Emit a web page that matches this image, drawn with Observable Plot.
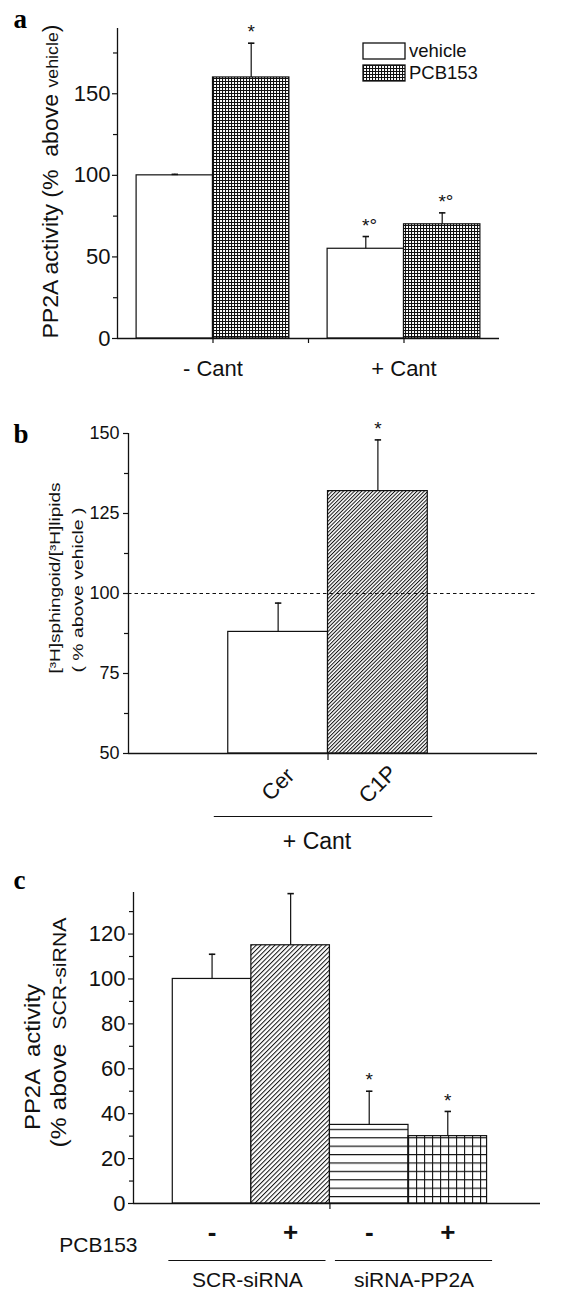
<!DOCTYPE html>
<html><head><meta charset="utf-8">
<script src="https://cdn.jsdelivr.net/npm/d3@7"></script>
<script src="https://cdn.jsdelivr.net/npm/@observablehq/plot@0.6"></script>
<style>
html,body{margin:0;padding:0;background:#fff;}
#wrap{position:relative;width:569px;height:1291px;overflow:hidden;}
.panel{position:absolute;left:0;}
#legA{position:absolute;left:363px;top:40px;width:190px;}
#legA svg{overflow:visible;margin-right:4px !important;}
#legA svg rect{stroke:#111;stroke-width:1.3px;}
</style></head>
<body>
<div id="wrap">
  <div class="panel" id="pa" style="top:0"></div>
  <div id="legA"></div>
  <div class="panel" id="pb" style="top:400px"></div>
  <div class="panel" id="pc" style="top:860px"></div>
</div>
<script>
const FONT = '"Liberation Sans", Arial, sans-serif';
const SERIF = '"Liberation Serif", "Times New Roman", serif';

// ---------- Panel a data ----------
const aGroups = ["- Cant", "+ Cant"];
const aSeries = ["vehicle", "PCB153"];
const aGroupOf = [0, 0, 1, 1];
const aSeriesOf = [0, 1, 0, 1];
const aMean = [100, 160, 55, 70];
const aErr = [0.6, 21, 7.5, 7];
const aMark = ["", "*", "*°", "*°"];
const aYTicks = [0, 50, 100, 150];
const aYMinor = [25, 75, 125, 175];
const aYLabel = "PP2A activity (%  above vehicle)";

// ---------- Panel b data ----------
const bCats = ["Cer", "C1P"];
const bMean = [88, 132];
const bErr = [9, 16];
const bMark = ["", "*"];
const bRef = 100;
const bYTicks = [50, 75, 100, 125, 150];
const bYMinor = [62.5, 87.5, 112.5, 137.5];
const bCondition = "+ Cant";
const bYLabel1 = "[³H]sphingoid/[³H]lipids";
const bYLabel2 = "( % above vehicle )";

// ---------- Panel c data ----------
const cPCB = ["-", "+", "-", "+"];
const cSi = ["SCR-siRNA", "SCR-siRNA", "siRNA-PP2A", "siRNA-PP2A"];
const cMean = [100, 115, 35, 30];
const cErr = [11, 23, 15, 11];
const cMark = ["", "", "*", "*"];
const cYTicks = [0, 20, 40, 60, 80, 100, 120];
const cYMinor = [10, 30, 50, 70, 90, 110, 130];
const cFactor = "PCB153";
const cYLabel1 = "PP2A  activity";
const cYLabel2 = "(% above  SCR-siRNA";

// ---------- helpers ----------
const capSymbol = {draw(ctx) { ctx.moveTo(-3.2, 0); ctx.lineTo(3.2, 0); }};
const baseStyle = {fontFamily: FONT, fontSize: "18px", color: "#111", background: "transparent", overflow: "visible"};

function fixText(svg, full, opts) {
  d3.select(svg).selectAll("text").filter(function () { return this.textContent === full; }).each(function () {
    const t = d3.select(this);
    if (opts.small) {
      const i = full.indexOf(opts.small);
      t.text(null);
      t.append("tspan").text(full.slice(0, i));
      t.append("tspan").attr("font-size", opts.smallSize).text(opts.small);
      if (i + opts.small.length < full.length) t.append("tspan").text(full.slice(i + opts.small.length));
    }
    if (opts.length) t.attr("textLength", opts.length).attr("lengthAdjust", "spacingAndGlyphs");
  });
}
function addDefs(svg) { return d3.select(svg).insert("defs", ":first-child"); }
function linePattern(defs, id, w, h, d, sw, rot) {
  const p = defs.append("pattern").attr("id", id).attr("patternUnits", "userSpaceOnUse")
    .attr("width", w).attr("height", h);
  if (rot) p.attr("patternTransform", `rotate(${rot})`);
  p.append("rect").attr("width", w).attr("height", h).attr("fill", "#fff");
  p.append("path").attr("d", d).attr("stroke", "#111").attr("stroke-width", sw).attr("fill", "none");
}
function letter(t, dx, dy) {
  return Plot.text([t], {frameAnchor: "top-left", text: d => d, textAnchor: "start", lineAnchor: "bottom",
    dx, dy, fontSize: 27, fontWeight: "bold", fontFamily: SERIF, fill: "#000"});
}
function yTitle(t, dx, dy, fontSize) {
  return Plot.text([t], {frameAnchor: "left", text: d => d, rotate: -90, textAnchor: "start", dx, dy, fontSize});
}
function yAxis(major, minor, x0, fontSize, dx) {
  return [
    Plot.axisY({ticks: major, tickSize: 5, tickFormat: () => "", label: null, strokeWidth: 1.2}),
    Plot.axisY({ticks: minor, tickSize: 4, tickFormat: () => "", label: null, strokeWidth: 1.2}),
    Plot.text(major, {x: x0, y: d => d, text: d => String(d), textAnchor: "end", dx, fontSize, fill: "#111"})
  ];
}

// ---------- Panel a ----------
const aRows = aMean.map((m, i) => {
  const x1 = aGroupOf[i] + 1 + (aSeriesOf[i] === 0 ? -0.4 : 0);
  return {series: aSeries[aSeriesOf[i]], x1, x2: x1 + 0.4, cx: x1 + 0.2, mean: m, top: m + aErr[i], mark: aMark[i]};
});
const pa = Plot.plot({
  width: 569, height: 400,
  marginLeft: 117, marginRight: 70, marginTop: 28, marginBottom: 62,
  x: {domain: [0.5, 2.5], label: null},
  y: {domain: [0, 190], label: null},
  color: {type: "ordinal", domain: aSeries, range: ["white", "url(#pa-grid)"]},
  style: baseStyle,
  marks: [
    Plot.rect(aRows, {x1: "x1", x2: "x2", y1: 0, y2: "mean", fill: "series", stroke: "#111", strokeWidth: 1.2}),
    Plot.ruleX(aRows, {x: "cx", y1: "mean", y2: "top", stroke: "#111", strokeWidth: 1.2}),
    Plot.dot(aRows, {x: "cx", y: "top", symbol: capSymbol, stroke: "#111", strokeWidth: 1.6, fill: "none"}),
    Plot.text(aRows.filter(d => d.mark), {x: "cx", y: "top", text: "mark", textAnchor: "start", dx: -3.8, dy: -11, fontSize: 19}),
    Plot.ruleX([0.5], {strokeWidth: 1.3}),
    Plot.ruleY([0], {strokeWidth: 1.3}),
    ...yAxis(aYTicks, aYMinor, 0.5, 22, -7),
    Plot.axisX({ticks: [1, 1.5, 2], tickSize: 5, tickFormat: () => "", label: null, strokeWidth: 1.2}),
    Plot.text(aGroups, {x: (d, i) => i + 1, y: 0, text: d => d, dy: 37, lineAnchor: "bottom", fontSize: 22}),
    yTitle(aYLabel, -67, 155, 22),
    letter("a", -104, -1)
  ]
});
const defsA = addDefs(pa);
linePattern(defsA, "pa-grid", 3, 3, "M0,0.5H3M0.5,0V3", 1.1, 0);
fixText(pa, aYLabel, {small: "vehicle", smallSize: 17, length: 314});
document.getElementById("pa").appendChild(pa);
const legA = pa.legend("color", {swatchWidth: 42, swatchHeight: 16, columns: 1,
  style: {fontFamily: FONT, fontSize: "18.5px", color: "#111", lineHeight: "21px"}});
document.getElementById("legA").appendChild(legA);

// ---------- Panel b ----------
const bRows = bMean.map((m, i) => ({cat: bCats[i], x1: i + 0.5, x2: i + 1.5, cx: i + 1, mean: m, top: m + bErr[i], mark: bMark[i]}));
const pb = Plot.plot({
  width: 569, height: 460,
  marginLeft: 128, marginRight: 32, marginTop: 33, marginBottom: 107,
  x: {domain: [-0.5, 3.6], label: null},
  y: {domain: [50, 150], label: null},
  color: {type: "ordinal", domain: bCats, range: ["white", "url(#pb-diag)"]},
  style: baseStyle,
  marks: [
    Plot.rect(bRows, {x1: "x1", x2: "x2", y1: 50, y2: "mean", fill: "cat", stroke: "#111", strokeWidth: 1.2}),
    Plot.ruleX(bRows, {x: "cx", y1: "mean", y2: "top", stroke: "#111", strokeWidth: 1.2}),
    Plot.dot(bRows, {x: "cx", y: "top", symbol: capSymbol, stroke: "#111", strokeWidth: 1.6, fill: "none"}),
    Plot.text(bRows.filter(d => d.mark), {x: "cx", y: "top", text: "mark", dy: -11, fontSize: 19}),
    Plot.ruleY([bRef], {strokeDasharray: "3.5,3", strokeWidth: 1.1, stroke: "#111"}),
    Plot.ruleX([-0.5], {strokeWidth: 1.3}),
    Plot.ruleY([50], {strokeWidth: 1.3}),
    ...yAxis(bYTicks, bYMinor, -0.5, 18, -9),
    Plot.axisX({ticks: [1.5], tickSize: 7, tickFormat: () => "", label: null, strokeWidth: 1.2}),
    Plot.text(bCats, {x: (d, i) => i + 1, y: 50, text: d => d, dy: 31, rotate: -45, fontSize: 22}),
    Plot.ruleY([50], {x1: 0.36, x2: 2.55, dy: 63, strokeWidth: 1.2}),
    Plot.text([bCondition], {x: 1.39, y: 50, text: d => d, dy: 95, lineAnchor: "bottom", fontSize: 23}),
    yTitle(bYLabel1, -73, 80, 14),
    yTitle(bYLabel2, -50, 79, 14),
    letter("b", -115, 9)
  ]
});
const defsB = addDefs(pb);
linePattern(defsB, "pb-diag", 2.6, 2.6, "M0.5,0V2.6", 1, 45);
fixText(pb, bYLabel1, {length: 191});
fixText(pb, bYLabel2, {length: 165});
document.getElementById("pb").appendChild(pb);

// ---------- Panel c ----------
const cRows = cMean.map((m, i) => ({key: cSi[i] + " " + cPCB[i], si: cSi[i], x1: i + 0.5, x2: i + 1.5, cx: i + 1, mean: m, top: m + cErr[i], mark: cMark[i]}));
const cGroups = d3.groups(cRows, d => d.si).map(([name, rs], gi) => {
  const s = d3.min(rs, d => d.cx), e = d3.max(rs, d => d.cx);
  return {name, x1: s - 0.55 + 0.12 * gi, x2: e + 0.45 + 0.12 * gi, mid: (s + e) / 2 - 0.05 + 0.12 * gi};
});
const pc = Plot.plot({
  width: 569, height: 431,
  marginLeft: 133, marginRight: 29, marginTop: 32, marginBottom: 88,
  x: {domain: [0, 5.18], label: null},
  y: {domain: [0, 138.5], label: null},
  color: {type: "ordinal", domain: cRows.map(d => d.key), range: ["white", "url(#pc-diag)", "url(#pc-h)", "url(#pc-grid)"]},
  style: baseStyle,
  marks: [
    Plot.rect(cRows, {x1: "x1", x2: "x2", y1: 0, y2: "mean", fill: "key", stroke: "#111", strokeWidth: 1.2}),
    Plot.ruleX(cRows, {x: "cx", y1: "mean", y2: "top", stroke: "#111", strokeWidth: 1.2}),
    Plot.dot(cRows, {x: "cx", y: "top", symbol: capSymbol, stroke: "#111", strokeWidth: 1.6, fill: "none"}),
    Plot.text(cRows.filter(d => d.mark), {x: "cx", y: "top", text: "mark", dy: -11, fontSize: 19}),
    Plot.ruleX([0], {strokeWidth: 1.3}),
    Plot.ruleY([0], {strokeWidth: 1.3}),
    ...yAxis(cYTicks, cYMinor, 0, 22, -8),
    Plot.axisX({ticks: [2.5], tickSize: 6, tickFormat: () => "", label: null, strokeWidth: 1.2}),
    Plot.text(cPCB, {x: (d, i) => i + 1, y: 0, text: d => d, dy: 37, lineAnchor: "bottom", fontSize: 26, fontWeight: "bold"}),
    Plot.text([cFactor], {x: 0, y: 0, text: d => d, dy: 48, dx: 4, textAnchor: "end", lineAnchor: "bottom", fontSize: 21}),
    Plot.ruleY(cGroups, {y: 0, x1: "x1", x2: "x2", dy: 57, strokeWidth: 1.2}),
    Plot.text(cGroups, {x: "mid", y: 0, text: "name", dy: 83, lineAnchor: "bottom", fontSize: 21}),
    yTitle(cYLabel1, -101, 82, 22),
    yTitle(cYLabel2, -75, 99.5, 22),
    letter("c", -120, -4)
  ]
});
const defsC = addDefs(pc);
linePattern(defsC, "pc-diag", 3.3, 3.3, "M0.5,0V3.3", 1, 45);
linePattern(defsC, "pc-h", 8, 8.4, "M0,0.6H8", 1.2, 0);
linePattern(defsC, "pc-grid", 8, 8.4, "M0,0.6H8M0.6,0V8.4", 1.1, 0);
fixText(pc, cYLabel2, {small: "SCR-siRNA", smallSize: 19, length: 230});
fixText(pc, cYLabel1, {length: 146});
document.getElementById("pc").appendChild(pc);
</script>
</body></html>
